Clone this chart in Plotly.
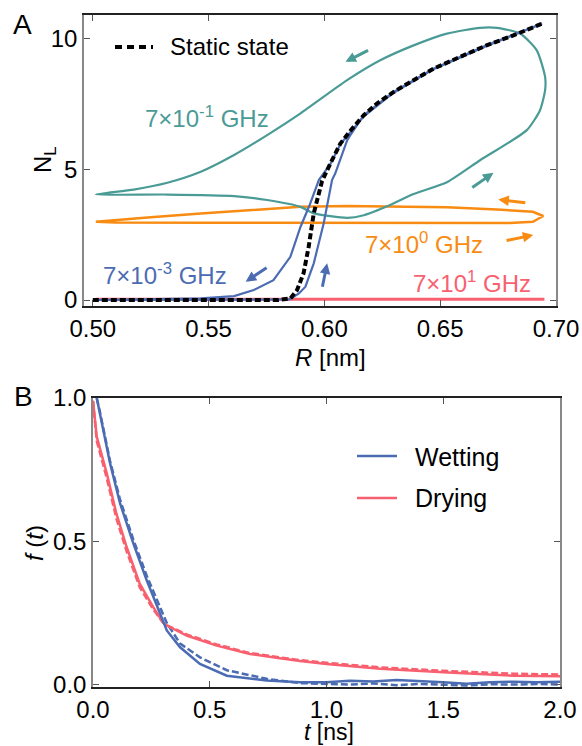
import plotly.graph_objects as go

# ---------------- Panel A data ----------------
R_static = [0.50, 0.55, 0.580, 0.5853, 0.5882, 0.591, 0.5932, 0.5954, 0.5975, 0.599, 0.6026,
            0.6069, 0.612, 0.617, 0.6227, 0.6299, 0.6385, 0.6471, 0.6586, 0.670, 0.6816, 0.694]
N_static = [0.0, 0.0, 0.0, 0.06, 0.38, 1.02, 2.03, 3.31, 4.0, 4.55, 5.22,
            5.98, 6.55, 7.06, 7.51, 7.95, 8.40, 8.84, 9.29, 9.73, 10.11, 10.56]

R_blue = [0.50, 0.55, 0.585, 0.589, 0.5918, 0.5954, 0.5997, 0.6033, 0.6047, 0.6098, 0.6112,
          0.617, 0.6299, 0.6471, 0.670, 0.694,
          0.670, 0.6471, 0.6299, 0.617, 0.6069, 0.6026, 0.5976, 0.5935, 0.5897, 0.5853,
          0.581, 0.578, 0.5695, 0.561, 0.5466, 0.52, 0.50]
N_blue = [0.0, 0.0, 0.02, 0.25, 0.51, 1.40, 2.93, 4.58, 4.84, 6.10, 6.30,
          7.06, 7.95, 8.84, 9.73, 10.56,
          9.71, 8.82, 7.92, 7.02, 5.96, 5.20, 4.58, 3.60, 2.80, 1.65,
          1.15, 0.76, 0.38, 0.15, 0.06, 0.01, 0.0]

R_teal = [0.5013, 0.5177, 0.5322, 0.5466, 0.5608, 0.5753, 0.5897, 0.6098, 0.6241, 0.6385,
          0.6529, 0.6672, 0.6744, 0.6845, 0.6917, 0.6953, 0.6953, 0.6931, 0.6874, 0.6672,
          0.6529, 0.6385, 0.6284, 0.617, 0.6098, 0.5954, 0.5897, 0.5753, 0.561, 0.5322, 0.5013]
N_teal = [4.03, 4.22, 4.48, 4.90, 5.53, 6.30, 7.13, 8.40, 9.16, 9.73,
          10.18, 10.40, 10.40, 10.18, 9.54, 8.52, 8.02, 7.25, 6.49, 5.34,
          4.50, 4.05, 3.63, 3.24, 3.14, 3.31, 3.56, 3.82, 3.97, 4.03, 4.03]

R_orange = [0.5013, 0.51, 0.55, 0.60, 0.65, 0.68, 0.690, 0.6945,
            0.690, 0.6744, 0.6529, 0.6385, 0.6098, 0.5897, 0.5681, 0.5466, 0.525, 0.5106, 0.5013]
N_orange = [2.99, 2.96, 2.95, 2.94, 2.93, 2.94, 2.99, 3.21,
            3.37, 3.46, 3.54, 3.56, 3.59, 3.56, 3.44, 3.31, 3.16, 3.05, 2.99]

R_pink = [0.5013, 0.55, 0.60, 0.65, 0.695]
N_pink = [0.03, 0.03, 0.03, 0.03, 0.03]

# arrows: (colour, tail R, tail N, head R, head N)
arrows_A = [
    ("teal", 0.6195, 9.57, 0.6091, 9.10),
    ("teal", 0.6632, 4.26, 0.6730, 4.86),
    ("orange", 0.6874, 3.71, 0.6751, 3.84),
    ("orange", 0.6780, 2.26, 0.6902, 2.48),
    ("blue", 0.5757, 1.27, 0.5660, 0.70),
    ("blue", 0.5990, 0.45, 0.6012, 1.40),
]

# ---------------- Panel B data ----------------
t_wet = [0.016, 0.03, 0.073, 0.116, 0.173, 0.23, 0.287, 0.316, 0.373, 0.458, 0.573, 0.744, 0.887,
         1.0, 1.1, 1.2, 1.3, 1.4, 1.5, 1.6, 1.7, 1.8, 1.9, 2.0]
f_wet = [1.0, 0.946, 0.772, 0.632, 0.492, 0.364, 0.247, 0.189, 0.130, 0.072, 0.031, 0.014, 0.008,
         0.008, 0.013, 0.011, 0.016, 0.013, 0.008, 0.003, 0.008, 0.010, 0.008, 0.010]
f_wet_fit = [1.0, 0.95, 0.78, 0.645, 0.505, 0.38, 0.27, 0.215, 0.143, 0.095, 0.05, 0.02, 0.005,
             0.003, 0.0, 0.004, -0.002, 0.002, 0.0, -0.003, 0.001, 0.0, 0.002, 0.0]

t_dry = [0.0, 0.016, 0.059, 0.1, 0.144, 0.2, 0.258, 0.301, 0.316, 0.401, 0.53, 0.672, 0.8, 0.887,
         1.0, 1.23, 1.5, 1.8, 2.0]
f_dry = [0.99, 0.865, 0.737, 0.597, 0.48, 0.352, 0.27, 0.215, 0.206, 0.171, 0.136, 0.107, 0.092,
         0.082, 0.072, 0.055, 0.043, 0.031, 0.029]
f_dry_fit = [0.99, 0.85, 0.72, 0.58, 0.465, 0.34, 0.262, 0.215, 0.207, 0.175, 0.14, 0.11, 0.095,
             0.085, 0.076, 0.06, 0.048, 0.038, 0.035]

TEAL = "#4a9b96"
BLUE = "#4b6cb3"
ORANGE = "#f88b12"
PINK = "#f8606f"
FONT = "Liberation Sans, Arial, sans-serif"

W, H = 582, 746
def px(x):
    return x / W
def py(y):
    return 1 - y / H

fig = go.Figure()

# Panel A traces
fig.add_trace(go.Scatter(x=R_pink, y=N_pink, mode="lines", line=dict(color=PINK, width=3),
                         xaxis="x", yaxis="y", showlegend=False))
fig.add_trace(go.Scatter(x=R_orange, y=N_orange, mode="lines", line=dict(color=ORANGE, width=2.5),
                         xaxis="x", yaxis="y", showlegend=False))
fig.add_trace(go.Scatter(x=R_teal, y=N_teal, mode="lines",
                         line=dict(color=TEAL, width=2.2, shape="spline", smoothing=0.6),
                         xaxis="x", yaxis="y", showlegend=False))
fig.add_trace(go.Scatter(x=R_blue, y=N_blue, mode="lines", line=dict(color=BLUE, width=2.2),
                         xaxis="x", yaxis="y", showlegend=False))
fig.add_trace(go.Scatter(x=R_static, y=N_static, mode="lines", name="Static state",
                         line=dict(color="black", width=4, dash="6px,3px"),
                         xaxis="x", yaxis="y", showlegend=False))

# Panel B traces
fig.add_trace(go.Scatter(x=t_dry, y=f_dry_fit, mode="lines", line=dict(color=PINK, width=2.5, dash="7px,3px"),
                         xaxis="x2", yaxis="y2", showlegend=False))
fig.add_trace(go.Scatter(x=t_wet, y=f_wet_fit, mode="lines", line=dict(color=BLUE, width=2.5, dash="7px,3px"),
                         xaxis="x2", yaxis="y2", showlegend=False))
fig.add_trace(go.Scatter(x=t_dry, y=f_dry, mode="lines", name="Drying", line=dict(color=PINK, width=2.5),
                         xaxis="x2", yaxis="y2", showlegend=False))
fig.add_trace(go.Scatter(x=t_wet, y=f_wet, mode="lines", name="Wetting", line=dict(color=BLUE, width=2.5),
                         xaxis="x2", yaxis="y2", showlegend=False))

axis_common = dict(showgrid=False, zeroline=False, showline=True, linewidth=1.5, automargin=False,
                   ticks="inside", ticklen=6, tickwidth=1.2, mirror="ticks",
                   tickfont=dict(family=FONT, size=24, color="black"))

fig.update_layout(
    template="none",
    width=W, height=H, autosize=False,
    margin=dict(l=0, r=0, t=0, b=0, pad=0),
    paper_bgcolor="white", plot_bgcolor="white",
    xaxis=dict(domain=[px(84), px(556)], range=[0.4962, 0.70], anchor="y",
               tickvals=[0.50, 0.55, 0.60, 0.65, 0.70],
               ticktext=["0.50", "0.55", "0.60", "0.65", "0.70"],
               linecolor="#222", tickcolor="#555", **axis_common),
    yaxis=dict(domain=[py(306), py(15)], range=[-0.229, 10.89], anchor="x",
               tickvals=[0, 5, 10], ticktext=["0", "5", "10"],
               linecolor="#888", tickcolor="#555", **axis_common),
    xaxis2=dict(domain=[px(93), px(560)], range=[0.0, 2.0], anchor="y2",
                tickvals=[0.0, 0.5, 1.0, 1.5, 2.0],
                ticktext=["0.0", "0.5", "1.0", "1.5", "2.0"],
                linecolor="#222", tickcolor="#555", **axis_common),
    yaxis2=dict(domain=[py(687), py(398)], range=[-0.0085, 1.0], anchor="x2",
                tickvals=[0.0, 0.5, 1.0], ticktext=["0.0", "0.5", "1.0"],
                linecolor="#888", tickcolor="#555", **axis_common),
)

annotations = []
def txt(text, x, y, size=24, color="black", xanchor="center", textangle=0, xref="paper", yref="paper"):
    annotations.append(dict(text=text, x=x, y=y, xref=xref, yref=yref, showarrow=False,
                            xanchor=xanchor, yanchor="middle", textangle=textangle,
                            font=dict(family=FONT, size=size, color=color)))

# panel labels
txt("A", px(22), py(24), size=28)
txt("B", px(23), py(396), size=28)
# axis titles
txt("<i>R</i> [nm]", px(330), py(357))
txt("N<sub>L</sub>", px(44), py(160), textangle=-90)
txt("<i>f</i> (<i>t</i>)", px(34), py(543), textangle=-90)
txt("<i>t</i> [ns]", px(329), py(732), size=23)
# panel A legend
txt("Static state", px(168), py(46), xanchor="left")
# curve labels
txt("7\u00d710<sup>-1</sup> GHz", 0.5491, 6.98, color=TEAL, xref="x", yref="y")
txt("7\u00d710<sup>-3</sup> GHz", 0.5310, 0.99, color=BLUE, xref="x", yref="y")
txt("7\u00d710<sup>0</sup> GHz", 0.6431, 2.18, color=ORANGE, xref="x", yref="y")
txt("7\u00d710<sup>1</sup> GHz", 0.6638, 0.69, color=PINK, xref="x", yref="y")
# panel B legend
txt("Wetting", px(413), py(457), size=25, xanchor="left")
txt("Drying", px(413), py(498), size=25, xanchor="left")

colmap = {"teal": TEAL, "orange": ORANGE, "blue": BLUE}
for c, tx, ty, hx, hy in arrows_A:
    annotations.append(dict(x=hx, y=hy, ax=tx, ay=ty, xref="x", yref="y", axref="x", ayref="y",
                            showarrow=True, arrowhead=2, arrowsize=0.7, arrowwidth=3,
                            arrowcolor=colmap[c], text=""))

fig.update_layout(annotations=annotations)

shapes = [
    dict(type="line", xref="paper", yref="paper", x0=px(115), x1=px(153), y0=py(47), y1=py(47),
         line=dict(color="black", width=4, dash="7px,5px")),
    dict(type="line", xref="paper", yref="paper", x0=px(357), x1=px(397), y0=py(456), y1=py(456),
         line=dict(color=BLUE, width=2.5)),
    dict(type="line", xref="paper", yref="paper", x0=px(357), x1=px(397), y0=py(498), y1=py(498),
         line=dict(color=PINK, width=2.5)),
]
fig.update_layout(shapes=shapes)

fig.write_html("out.html",
               config={"displayModeBar": False},
               post_script="document.body.style.margin='0px';document.body.style.padding='0px';"
                           "document.body.style.overflow='hidden';")
